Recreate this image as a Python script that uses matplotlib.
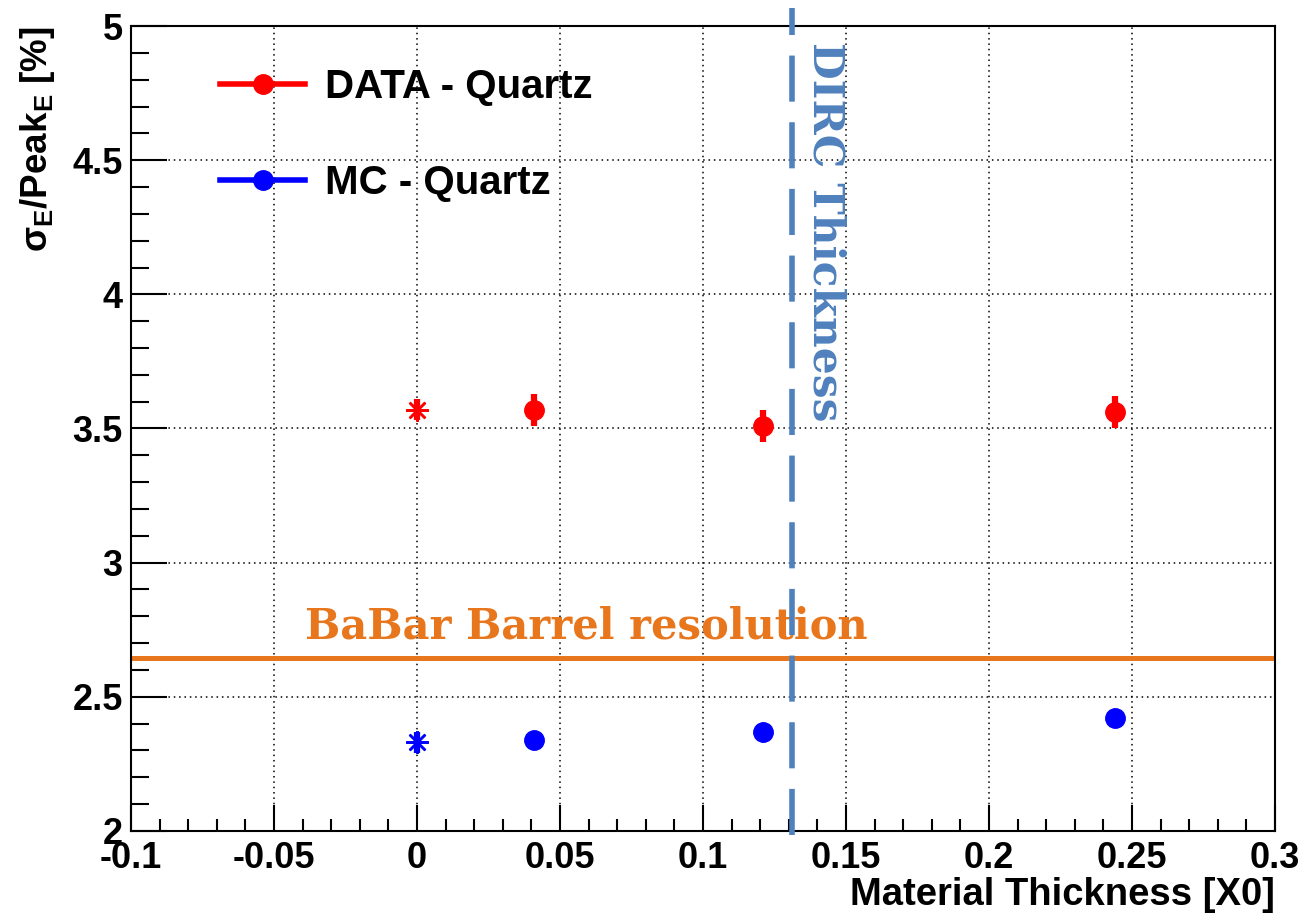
import numpy as np
import matplotlib.pyplot as plt
from matplotlib.lines import Line2D
from matplotlib.ticker import MultipleLocator

plt.rcParams["font.family"] = ["Liberation Sans", "DejaVu Sans"]
plt.rcParams["font.weight"] = "bold"
plt.rcParams["axes.labelweight"] = "bold"
plt.rcParams["mathtext.fontset"] = "custom"
plt.rcParams["mathtext.rm"] = "Liberation Sans:bold"
plt.rcParams["mathtext.bf"] = "Liberation Sans:bold"
plt.rcParams["mathtext.it"] = "Liberation Sans:bold"

# material thickness [X0] and energy resolution [%]
thickness = [0.0, 0.041, 0.121, 0.244]
data_res = [3.57, 3.57, 3.51, 3.56]
data_err = [0.04, 0.06, 0.06, 0.06]
mc_res = [2.33, 2.34, 2.37, 2.42]
mc_err = [0.04, 0.015, 0.015, 0.015]

babar_res = 2.645
dirc_thickness = 0.131

RED = "#ff0000"
BLUE = "#0000ff"
ORANGE = "#e8761c"
STEEL = "#4f81bd"

fig = plt.figure(figsize=(13.04, 9.15), dpi=100)
ax = fig.add_axes([131 / 1304, 1 - 831 / 915, 1144 / 1304, 805 / 915])

ax.set_xlim(-0.1, 0.3)
ax.set_ylim(2, 5)
ax.xaxis.set_major_locator(MultipleLocator(0.05))
ax.xaxis.set_minor_locator(MultipleLocator(0.01))
ax.yaxis.set_major_locator(MultipleLocator(0.5))
ax.yaxis.set_minor_locator(MultipleLocator(0.1))
ax.xaxis.set_major_formatter(lambda v, p: f"{v:g}")
ax.yaxis.set_major_formatter(lambda v, p: f"{v:g}")
ax.tick_params(which="both", direction="in", width=1.5, labelsize=26)
ax.tick_params(axis="y", which="major", length=26, pad=6)
ax.tick_params(axis="y", which="minor", length=13)
ax.tick_params(axis="x", which="major", length=19, pad=7)
ax.tick_params(axis="x", which="minor", length=9)
for s in ax.spines.values():
    s.set_linewidth(1.5)
ax.grid(True, which="major", color="black", linestyle=(0, (1, 2.5)), linewidth=1.1)
ax.set_axisbelow(True)

# first point (no material) is drawn as a star, the rest as dots
ax.errorbar(thickness[:1], data_res[:1], yerr=data_err[:1], fmt="none",
            ecolor=RED, elinewidth=4.5, zorder=3)
ax.plot(thickness[:1], data_res[:1], marker=(8, 2, 0), ms=16, mew=1.8,
        color=RED, ls="none", zorder=4)
ax.errorbar(thickness[1:], data_res[1:], yerr=data_err[1:], fmt="o",
            color=RED, ms=14, elinewidth=4.5, zorder=4)

ax.errorbar(thickness[:1], mc_res[:1], yerr=mc_err[:1], fmt="none",
            ecolor=BLUE, elinewidth=4.5, zorder=3)
ax.plot(thickness[:1], mc_res[:1], marker=(8, 2, 0), ms=16, mew=1.8,
        color=BLUE, ls="none", zorder=4)
ax.errorbar(thickness[1:], mc_res[1:], yerr=mc_err[1:], fmt="o",
            color=BLUE, ms=14, elinewidth=4.5, zorder=4)

# BaBar reference resolution
ax.axhline(babar_res, xmin=0.003, xmax=0.997, color=ORANGE, lw=3.6, zorder=2)
ax.text(-0.0392, babar_res + 0.072, "BaBar Barrel resolution",
        family="DejaVu Serif", weight="bold", fontsize=30, color=ORANGE,
        ha="left", va="baseline", zorder=5)

# DIRC thickness marker
ax.plot([dirc_thickness, dirc_thickness], [1.985, 5.067], color=STEEL, lw=4,
        dashes=(8.3, 3.7), clip_on=False, zorder=5)
ax.text(dirc_thickness + 0.0120, 4.94, "DIRC Thickness", rotation=-90,
        family="DejaVu Serif", weight="bold", fontsize=30.5, color=STEEL,
        ha="center", va="top", zorder=5)

handles = [
    Line2D([], [], color=RED, lw=4, marker="o", ms=14),
    Line2D([], [], color=BLUE, lw=4, marker="o", ms=14),
]
ax.legend(handles, ["DATA - Quartz", "MC - Quartz"], loc="upper left",
          bbox_to_anchor=(0.078, 0.948), frameon=False, fontsize=29,
          handlelength=2.1, handletextpad=0.5, labelspacing=1.45,
          borderpad=0, borderaxespad=0)

ax.set_xlabel("Material Thickness [X0]", fontsize=27.5, loc="right")
ax.xaxis.set_label_coords(1.0, -0.057)
ax.set_ylabel(r"σ$_{\mathbf{E}}$/Peak$_{\mathbf{E}}$ [%]", fontsize=26.5, loc="top")
ax.yaxis.set_label_coords(-0.0645, 1.0)

fig.savefig("out.png", dpi=100)
